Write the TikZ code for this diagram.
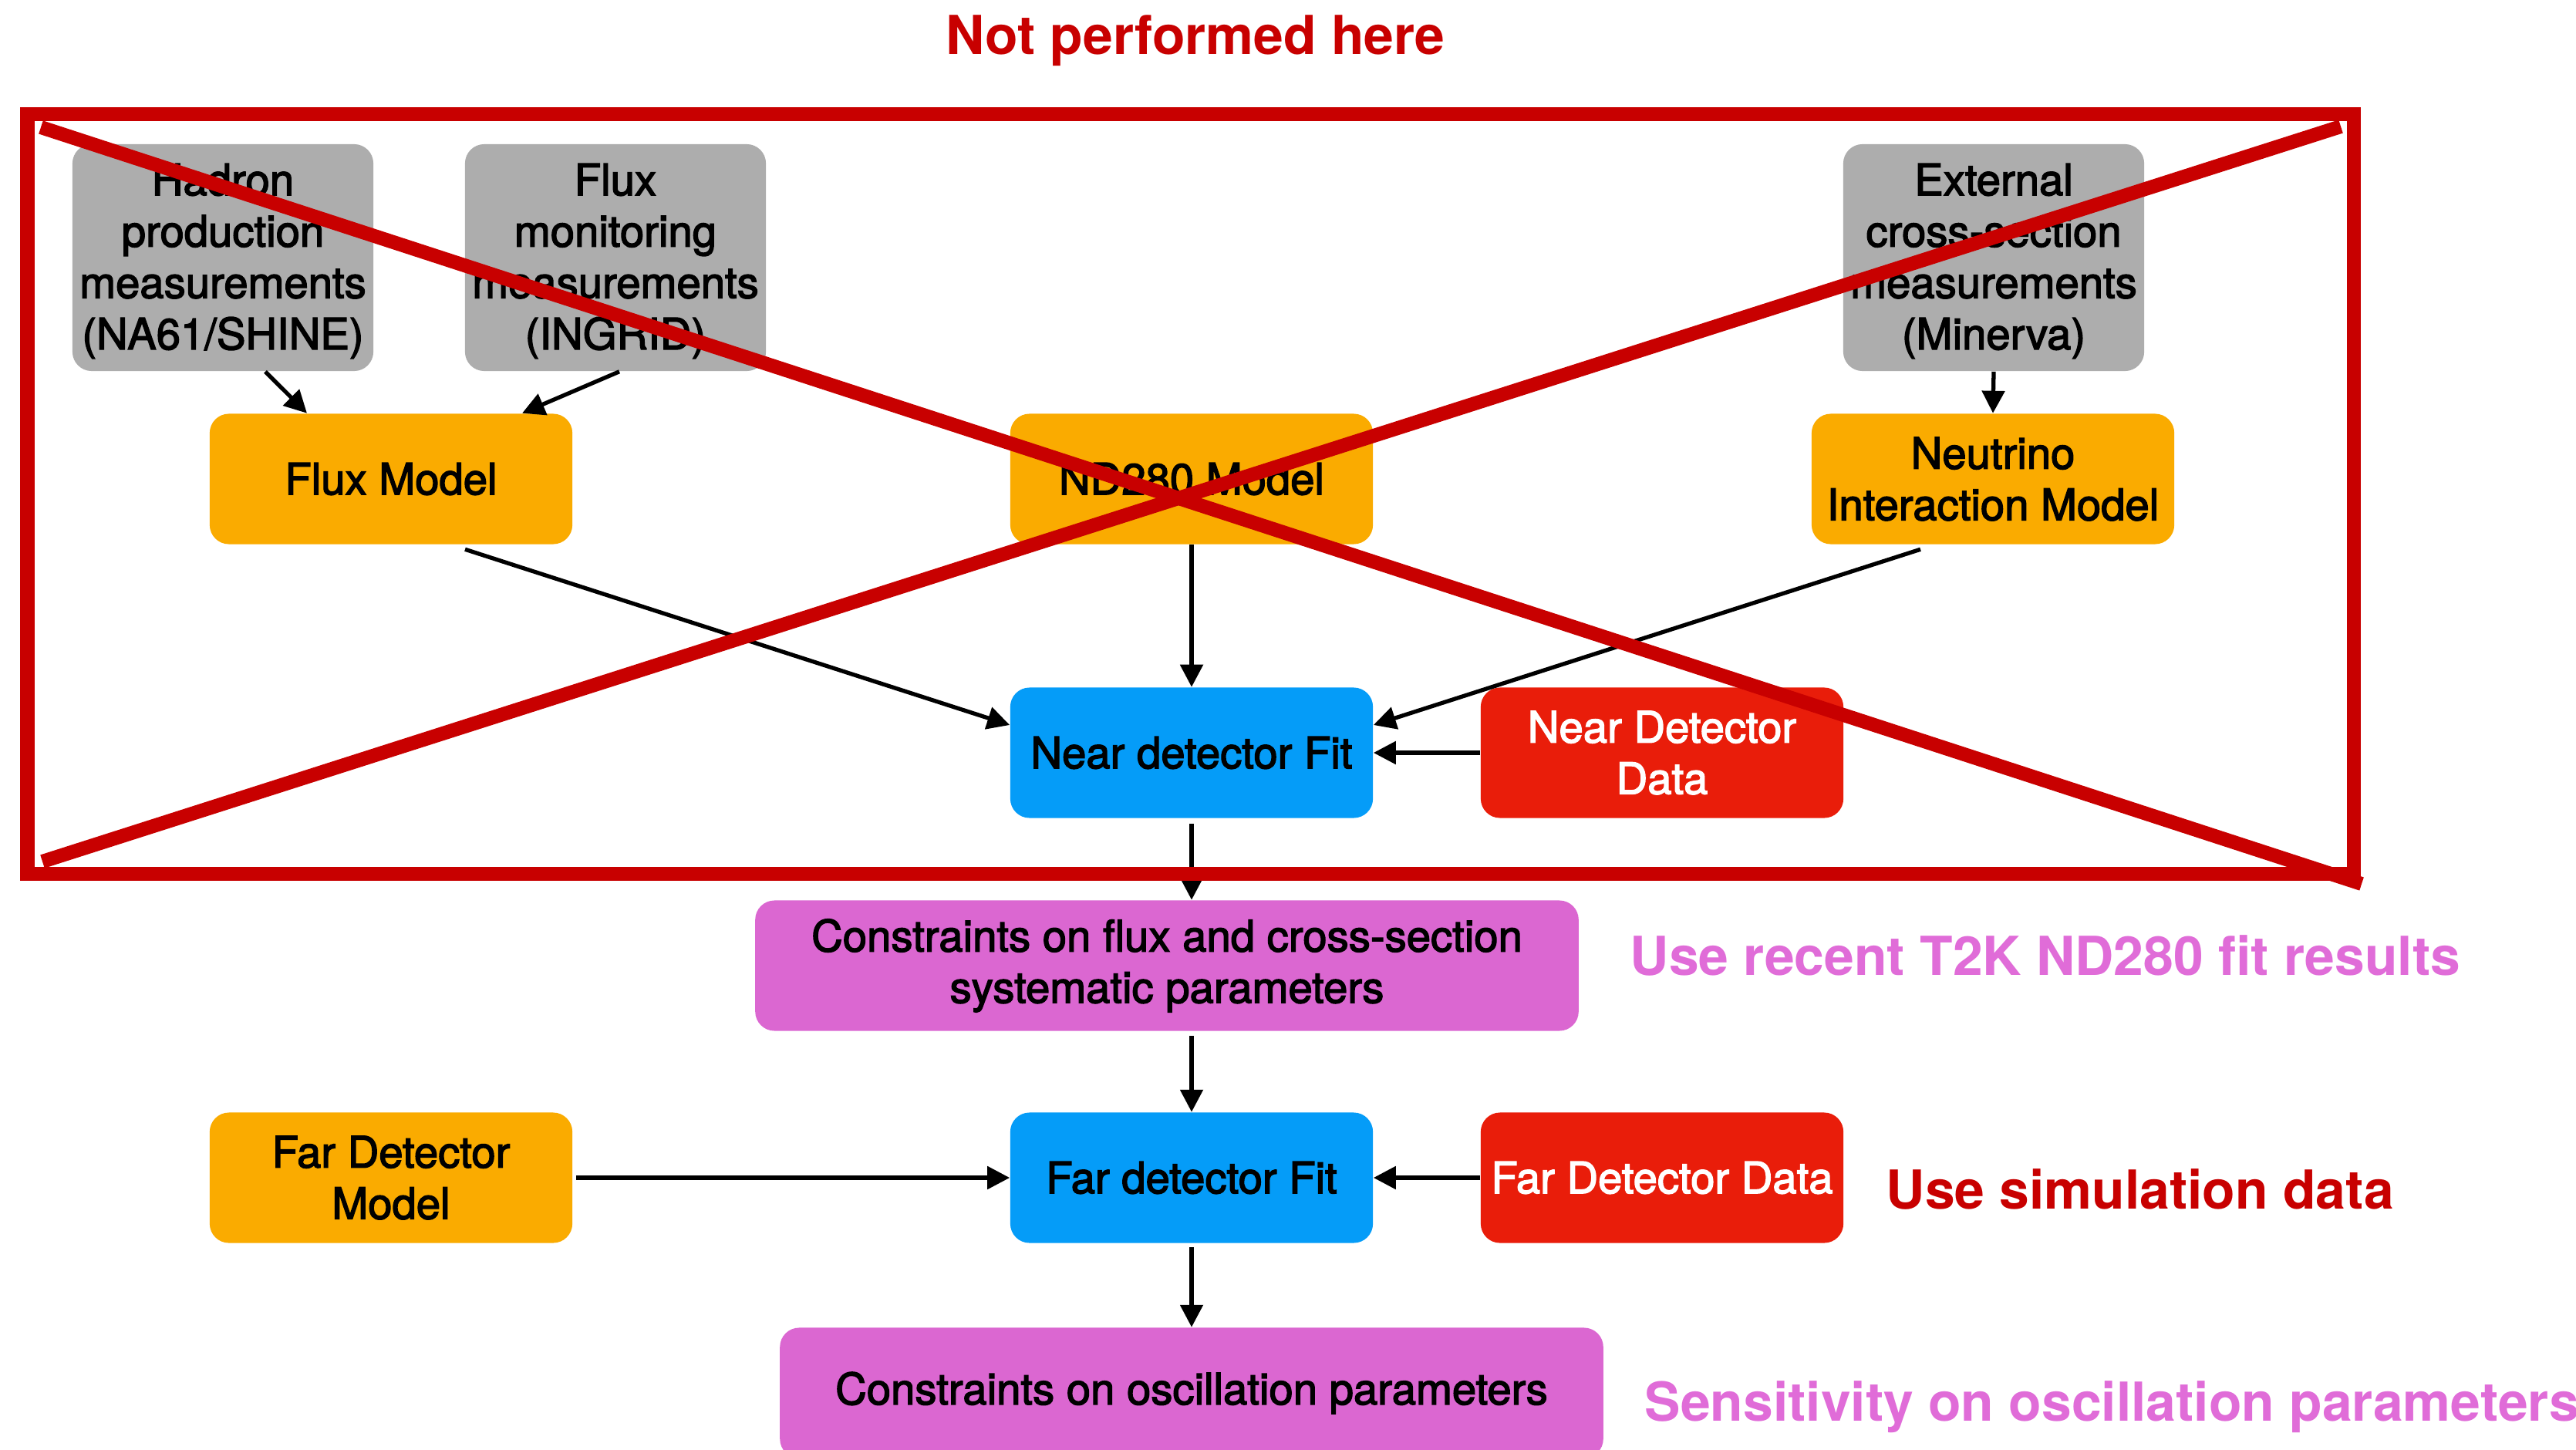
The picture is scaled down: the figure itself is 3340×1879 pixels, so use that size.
\documentclass[tikz,border=0pt]{standalone}
\usepackage{fontspec}
\setmainfont{TeX Gyre Heros}
\newfontfamily\medfont[FakeBold=2.5]{TeX Gyre Heros}
\usetikzlibrary{arrows.meta,calc}
\definecolor{xred}{RGB}{200,0,0}
\definecolor{boxgray}{RGB}{173,173,173}
\definecolor{boxorange}{RGB}{250,171,0}
\definecolor{boxblue}{RGB}{5,156,248}
\definecolor{boxred}{RGB}{233,29,10}
\definecolor{boxmag}{RGB}{219,103,209}
\definecolor{pinktext}{RGB}{224,108,216}
\begin{document}
\begin{tikzpicture}[x=0.01cm,y=-0.01cm,
  bx/.style={rounded corners=0.25cm, inner sep=0pt, align=center,
    font=\medfont\fontsize{16}{18.95}\selectfont, minimum height=1.69cm, minimum width=4.70cm},
  grayb/.style={bx, fill=boxgray, text=black, minimum width=3.9cm, minimum height=2.94cm},
  orangeb/.style={bx, fill=boxorange, text=black},
  blueb/.style={bx, fill=boxblue, text=black},
  redb/.style={bx, fill=boxred, text=white},
  magb/.style={bx, fill=boxmag, text=black, minimum width=10.67cm},
  arr/.style={-{Triangle[length=0.29cm,width=0.29cm]}, line width=1.5pt, black},
  lbl/.style={font=\fontsize{19.8}{23}\selectfont\bfseries, inner sep=0pt, anchor=base west},
  xline/.style={xred, line width=0.18cm}
]
\useasboundingbox (0,0) rectangle (3340,1879);
\fill[white] (0,0) rectangle (3340,1879);

% boxes
\node[grayb] (hadron) at (289,334) {\rule{0pt}{0.5cm}Hadron\\production\\measurements\\(NA61/SHINE)};
\node[grayb] (fmon) at (798,334) {\rule{0pt}{0.5cm}Flux\\monitoring\\measurements\\(INGRID)};
\node[grayb] (ext) at (2585,334) {\rule{0pt}{0.5cm}External\\cross-section\\measurements\\(Minerva)};
\node[orangeb] (fluxm) at (507,621) {Flux Model};
\node[orangeb] (nd280) at (1545,621) {ND280 Model};
\node[orangeb] (nuint) at (2584,621) {Neutrino\\Interaction Model};
\node[blueb] (nfit) at (1545,976) {Near detector Fit};
\node[redb] (ndata) at (2155,976) {Near Detector\\Data};
\node[magb] (cons1) at (1513,1252) {Constraints on flux and cross-section\\systematic parameters};
\node[orangeb] (fmodel) at (507,1527) {Far Detector\\Model};
\node[blueb] (ffit) at (1545,1527) {Far detector Fit};
\node[redb] (fdata) at (2155,1527) {Far Detector Data};
\node[magb] (cons2) at (1545,1806) {Constraints on oscillation parameters};

% connectors
\draw[arr] ($(hadron.south)+(55,0)$) -- ($(fluxm.north)+(-109,0)$);
\draw[arr] ($(fmon.south)+(5,0)$) -- ($(fluxm.north)+(170,0)$);
\draw[arr] (ext.south) -- (nuint.north);
\draw[arr] ($(fluxm.south)+(96,6)$) -- ($(nfit.west)+(0,-36)$);
\draw[arr] (nd280.south) -- (nfit.north);
\draw[arr] ($(nuint.south)+(-94,6)$) -- ($(nfit.east)+(0,-36)$);
\draw[arr] (ndata.west) -- (nfit.east);
\draw[arr, shorten <=0.07cm] (nfit.south) -- (nfit.south |- cons1.north);
\draw[arr, shorten <=0.06cm] (cons1.south -| ffit.north) -- (ffit.north);
\draw[arr, shorten <=0.04cm] (fmodel.east) -- (ffit.west);
\draw[arr] (fdata.west) -- (ffit.east);
\draw[arr, shorten <=0.05cm] (ffit.south) -- (cons2.north);

% red cross-out
\coordinate (ftl) at (35.5,148);
\coordinate (fbr) at (3051.5,1132.5);
\draw[xred, line width=0.18cm] (ftl) rectangle (fbr);
\coordinate (d1a) at (53,165);
\coordinate (d1b) at (3062,1146);
\coordinate (d2a) at (55,1117);
\coordinate (d2b) at (3035,164);
\draw[xline] (d1a) -- (d1b);
\draw[xline] (d2a) -- (d2b);

% labels
\node[lbl, text=xred, anchor=base] (nph) at (1550,71) {Not performed here};
\node[lbl, text=pinktext] (l1) at (2113,1264) {Use recent T2K ND280 fit results};
\node[lbl, text=xred] (l2) at (2445,1567) {Use simulation data};
\node[lbl, text=pinktext] (l3) at (2132,1842) {Sensitivity on oscillation parameters};
\end{tikzpicture}
\end{document}
